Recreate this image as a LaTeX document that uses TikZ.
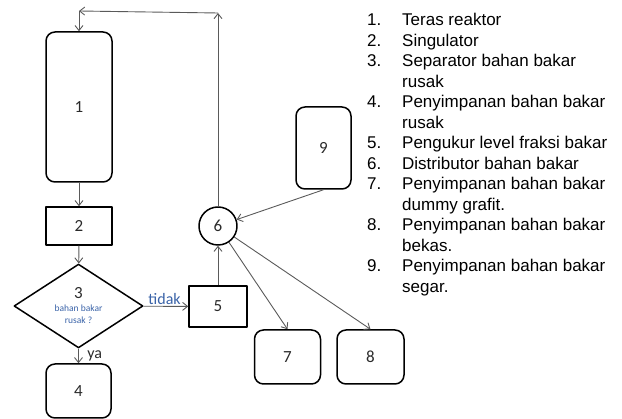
\documentclass[tikz,border=0pt]{standalone}
\usepackage{fontspec}
\setmainfont{Liberation Sans}
\newfontfamily\boxfont{Carlito}
\usetikzlibrary{arrows.meta,shapes.geometric,positioning}
\definecolor{flowline}{HTML}{5A5A5A}
\definecolor{labelblue}{HTML}{3A63A8}
\definecolor{numgray}{HTML}{2A2A2A}

\begin{document}
\begin{tikzpicture}[
  x=1pt,y=-1pt,
  line join=round,
  roundbox/.style={draw=black,line width=1.5pt,rounded corners=9pt,inner sep=0pt,
    font=\boxfont\fontsize{17}{20}\selectfont,text=numgray},
  squarebox/.style={draw=black,line width=1.5pt,inner sep=0pt,
    font=\boxfont\fontsize{17}{20}\selectfont,text=numgray},
  decision/.style={diamond,draw=black,line width=1.5pt,inner sep=0pt,
    minimum width=129pt,minimum height=71pt,align=center,text=numgray},
  hub/.style={circle,draw=black,line width=1.5pt,minimum size=38pt,inner sep=0pt,
    font=\boxfont\fontsize{17}{20}\selectfont,text=numgray},
  flow/.style={draw=flowline,line width=0.9pt,-{Straight Barb[length=5pt,width=8pt]}}
]
  \useasboundingbox (0,0) rectangle (622,419);

  % Flow chart boxes
  \node[roundbox,minimum width=66pt,minimum height=150pt] (core) at (79,107) {1};
  \node[squarebox,minimum width=66pt,minimum height=38pt] (singulator) at (79,226) {2};
  \node[decision] (separator) at (78.5,306)
    {{\boxfont\fontsize{17}{15}\selectfont 3}\\[1pt]
     {\boxfont\fontsize{9.5}{11}\selectfont\color{labelblue}bahan bakar}\\
     {\boxfont\fontsize{9.5}{11}\selectfont\color{labelblue}rusak ?}};
  \node[roundbox,minimum width=65pt,minimum height=54pt] (damaged) at (78.5,391) {4};
  \node[squarebox,minimum width=58pt,minimum height=41pt] (burnup) at (218,306.5) {5};
  \node[hub] (distributor) at (218,226) {6};
  \node[roundbox,minimum width=66pt,minimum height=54pt] (dummy) at (287.5,357) {7};
  \node[roundbox,minimum width=67pt,minimum height=54pt] (spent) at (370.5,357) {8};
  \node[roundbox,minimum width=55pt,minimum height=82pt] (fresh) at (323.5,148) {9};

  % Return path to the core
  \coordinate (loopR) at (218,13);
  \coordinate (loopL) at (79,11);

  % Connectors
  \draw[flow] (core) -- (singulator);
  \draw[flow] (singulator) -- (separator);
  \draw[flow] (separator) -- (damaged)
    node[pos=0.5,anchor=west,xshift=5pt,font=\boxfont\fontsize{16}{18}\selectfont,text=numgray] {ya};
  \draw[flow] (separator) -- (burnup)
    node[pos=0.08,anchor=south west,inner sep=1pt,font=\boxfont\fontsize{16}{18}\selectfont,text=labelblue] {tidak};
  \draw[flow] (burnup) -- (distributor);
  \draw[flow] (fresh.south) -- (distributor);
  \draw[flow] (distributor) -- (dummy.north);
  \draw[flow] (distributor) -- (spent.north);
  \draw[flow] (distributor) -- (loopR);
  \draw[flow] (loopR) -- (loopL);
  \draw[flow] (loopL) -- (core);

  % Legend
  \node[anchor=north west,inner sep=0pt,font=\fontsize{17}{20.5}\selectfont,text=black] (legend) at (367,11) {%
    \begin{tabular}{@{}p{35pt}@{}l@{}}
      1. & Teras reaktor\\
      2. & Singulator\\
      3. & Separator bahan bakar\\
         & rusak\\
      4. & Penyimpanan bahan bakar\\
         & rusak\\
      5. & Pengukur level fraksi bakar\\
      6. & Distributor bahan bakar\\
      7. & Penyimpanan bahan bakar\\
         & dummy grafit.\\
      8. & Penyimpanan bahan bakar\\
         & bekas.\\
      9. & Penyimpanan bahan bakar\\
         & segar.
    \end{tabular}};
\end{tikzpicture}
\end{document}
